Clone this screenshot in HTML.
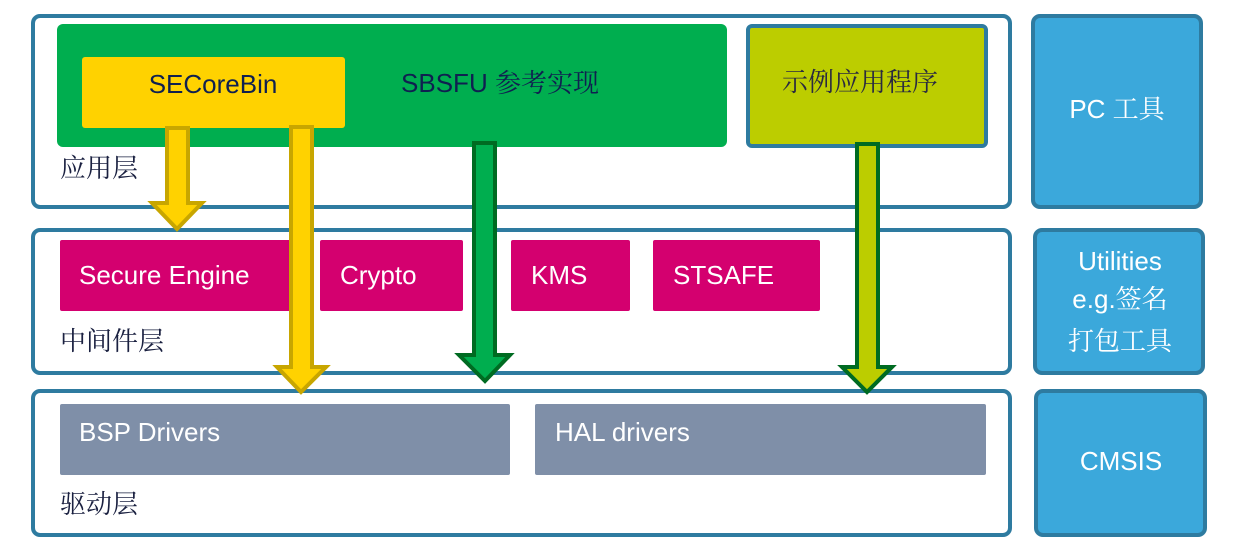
<!DOCTYPE html>
<html><head><meta charset="utf-8"><style>
html,body{margin:0;padding:0;background:#fff;}
svg{display:block;}
text{font-family:"Liberation Sans","Noto Sans CJK SC",sans-serif;}
.cj{font-family:"Noto Serif CJK SC","Noto Sans CJK SC",serif;}
</style></head><body>
<svg width="1240" height="552" viewBox="0 0 1240 552" xmlns="http://www.w3.org/2000/svg">
<g fill="#fff" stroke="#2e7ba0" stroke-width="4">
<rect x="33" y="16" width="977" height="191" rx="7"/>
<rect x="33" y="230" width="977" height="143" rx="7"/>
<rect x="33" y="391" width="977" height="144" rx="7"/>
</g>
<g fill="#3ba8db" stroke="#2e7ba0" stroke-width="4">
<rect x="1033" y="16" width="168" height="191" rx="7"/>
<rect x="1035" y="230" width="168" height="143" rx="7"/>
<rect x="1036" y="391" width="169" height="144" rx="7"/>
</g>
<rect x="57" y="24" width="670" height="123" rx="6" fill="#00ae4f"/>
<rect x="82" y="57" width="263" height="71" rx="3" fill="#ffd200"/>
<rect x="748" y="26" width="238" height="120" rx="4" fill="#bccd00" stroke="#2e7ba0" stroke-width="4"/>
<g fill="#d4006f">
<rect x="60" y="240" width="232" height="71" rx="2"/>
<rect x="320" y="240" width="143" height="71" rx="2"/>
<rect x="511" y="240" width="119" height="71" rx="2"/>
<rect x="653" y="240" width="167" height="71" rx="2"/>
</g>
<g fill="#7f8fa8">
<rect x="60" y="404" width="450" height="71" rx="2"/>
<rect x="535" y="404" width="451" height="71" rx="2"/>
</g>
<g stroke-width="4" stroke-linejoin="miter">
<path d="M167 128 H188 V203 H202 L177 229 L152 203 H167 Z" fill="#ffd200" stroke="#c8a600"/>
<path d="M291 127 H312 V367 H326 L301 392 L277 367 H291 Z" fill="#ffd200" stroke="#c8a600"/>
<path d="M474 143 H495 V355 H510 L485 381 L459 355 H474 Z" fill="#00ae4f" stroke="#006b22"/>
<path d="M857 144 H878 V367 H892 L867 392 L842 367 H857 Z" fill="#bccd00" stroke="#006b22"/>
</g>
<g font-size="26">
<text x="213" y="93" text-anchor="middle" fill="#0f2050">SECoreBin</text>
<text x="500" y="92" text-anchor="middle" fill="#0f2050">SBSFU <tspan class="cj">参考实现</tspan></text>
<text x="860" y="91" text-anchor="middle" fill="#2a2a40" class="cj">示例应用程序</text>
<text x="60" y="177" fill="#1a2040" class="cj">应用层</text>
<text x="60" y="350" fill="#1a2040" class="cj">中间件层</text>
<text x="60" y="513" fill="#1a2040" class="cj">驱动层</text>
<text x="79" y="284" fill="#fff">Secure Engine</text>
<text x="340" y="284" fill="#fff">Crypto</text>
<text x="531" y="284" fill="#fff">KMS</text>
<text x="673" y="284" fill="#fff">STSAFE</text>
<text x="79" y="441" fill="#fff">BSP Drivers</text>
<text x="555" y="441" fill="#fff">HAL drivers</text>
<text x="1117" y="118" text-anchor="middle" fill="#fff">PC <tspan class="cj">工具</tspan></text>
<text x="1120" y="270" text-anchor="middle" fill="#fff">Utilities</text>
<text x="1120" y="308" text-anchor="middle" fill="#fff">e.g.<tspan class="cj">签名</tspan></text>
<text x="1120" y="350" text-anchor="middle" fill="#fff" class="cj">打包工具</text>
<text x="1121" y="470" text-anchor="middle" fill="#fff">CMSIS</text>
</g>
</svg>
</body></html>
